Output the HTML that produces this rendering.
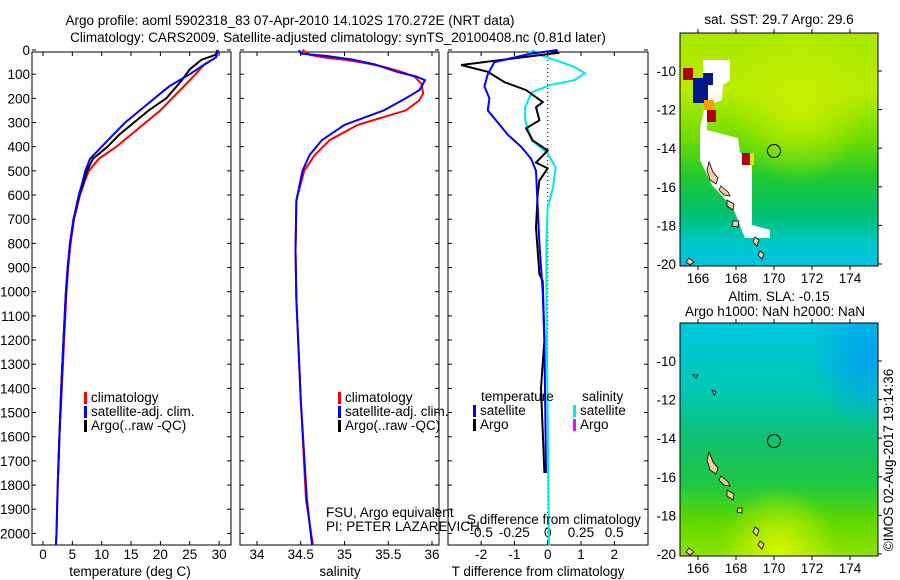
<!DOCTYPE html>
<html><head><meta charset="utf-8"><style>
body{margin:0;background:#fff;}
svg{display:block;font-family:"Liberation Sans",sans-serif;font-size:13.5px;}
</style></head><body>
<svg id="fig" width="900" height="580" viewBox="0 0 900 580">
<defs>
<linearGradient id="g1" x1="0" y1="0" x2="0" y2="1">
<stop offset="0" stop-color="#a8e800"/><stop offset="0.25" stop-color="#b8ec00"/><stop offset="0.45" stop-color="#70dc00"/><stop offset="0.62" stop-color="#20c830"/><stop offset="0.78" stop-color="#00c070"/><stop offset="0.9" stop-color="#00c8c8"/><stop offset="1" stop-color="#00c0e0"/></linearGradient>
<radialGradient id="g1b" cx="0.6" cy="0.3" r="0.35"><stop offset="0" stop-color="#c8f000"/><stop offset="1" stop-color="#c8f000" stop-opacity="0"/></radialGradient>
<linearGradient id="g2" x1="0" y1="0" x2="0" y2="1">
<stop offset="0" stop-color="#00c8e0"/><stop offset="0.3" stop-color="#00c8b0"/><stop offset="0.5" stop-color="#10c070"/><stop offset="0.7" stop-color="#20c840"/><stop offset="0.85" stop-color="#60d800"/><stop offset="1" stop-color="#90e000"/></linearGradient>
<radialGradient id="g2b" cx="0.5" cy="1" r="0.3"><stop offset="0" stop-color="#d8f800"/><stop offset="1" stop-color="#d8f800" stop-opacity="0"/></radialGradient>
<radialGradient id="g2c" cx="0.95" cy="0.15" r="0.3"><stop offset="0" stop-color="#00a0f0"/><stop offset="1" stop-color="#00a0f0" stop-opacity="0"/></radialGradient>
</defs>
<text x="290" y="25" text-anchor="middle">Argo profile: aoml 5902318_83 07-Apr-2010 14.102S 170.272E (NRT data)</text>
<text x="338" y="42" text-anchor="middle">Climatology: CARS2009. Satellite-adjusted climatology: synTS_20100408.nc (0.81d later)</text>
<g id="p1"></g>
<g id="p2"></g>
<g id="p3"></g>

<g>
<text x="779" y="24" text-anchor="middle">sat. SST: 29.7 Argo: 29.6</text>
<rect x="680" y="33" width="198" height="233" fill="url(#g1)"/>
<rect x="680" y="33" width="198" height="233" fill="url(#g1b)"/>
<polygon points="703,60 730,60 730,80 723,85 722,100 708,105 707,130 738,138 740,152 752,165 752,225 770,230 770,238 745,238 733,208 712,185 700,160 700,128 705,105 703,80" fill="#fff"/>
<rect x="683" y="68" width="10" height="12" fill="#b00000"/><rect x="693" y="78" width="15" height="25" fill="#001888"/><rect x="703" y="73" width="10" height="12" fill="#001888"/><rect x="704" y="100" width="10" height="10" fill="#f0a000"/><rect x="707" y="110" width="9" height="12" fill="#b00000"/><rect x="742" y="153" width="8" height="12" fill="#b00000"/><rect x="750" y="153" width="4" height="12" fill="#e8e000"/>
<g fill="#f8c8a0" stroke="#000" stroke-width="0.8">
<polygon points="709,162 713,172 718,178 716,184 710,180 707,170"/><polygon points="721,186 728,192 730,196 724,195 719,190"/><polygon points="727,200 734,204 733,210 727,206"/><polygon points="733,221 739,221 738,227 732,226"/><polygon points="755,237 759,240 757,246 753,242"/><polygon points="760,251 764,254 762,259 758,255"/><polygon points="689,258 694,262 690,265 686,262"/></g>
<circle cx="774" cy="151" r="6.5" fill="none" stroke="#000"/>
<rect x="680" y="33" width="198" height="233" fill="none" stroke="#000"/>
<g id="m1t"></g>
</g>
<g>
<text x="779" y="301" text-anchor="middle">Altim. SLA: -0.15</text>
<text x="775" y="316" text-anchor="middle">Argo h1000: NaN h2000: NaN</text>
<rect x="680" y="323" width="198" height="233" fill="url(#g2)"/>
<rect x="680" y="323" width="198" height="233" fill="url(#g2c)"/>
<rect x="680" y="323" width="198" height="233" fill="url(#g2b)"/>
<g fill="#f8c8a0" stroke="#000" stroke-width="0.8">
<polygon points="709,452 713,462 718,468 716,474 710,470 707,460"/><polygon points="721,476 728,482 730,486 724,485 719,480"/><polygon points="727,490 734,494 733,500 727,496"/><polygon points="738,508 742,508 742,513 737,512"/><polygon points="755,527 759,530 757,536 753,532"/><polygon points="760,541 764,544 762,549 758,545"/><polygon points="689,548 694,552 690,555 686,552"/><polygon points="693,375 698,375 696,378"/><polygon points="712,390 716,392 714,395"/></g>
<circle cx="774" cy="441" r="6.5" fill="none" stroke="#000"/>
<rect x="680" y="323" width="198" height="233" fill="none" stroke="#000"/>
<g id="m2t"></g>
</g>
<text transform="translate(893,460) rotate(-90)" text-anchor="middle">©IMOS 02-Aug-2017 19:14:36</text>
</svg>
<script>
// ---- data ----
const depthTicks=[0,100,200,300,400,500,600,700,800,900,1000,1100,1200,1300,1400,1500,1600,1700,1800,1900,2000];
const tempTicks=[0,5,10,15,20,25,30];
const salTicks=[34,34.5,35,35.5,36];
const tdiffTicks=[-2,-1,0,1,2];
const sdiffTicks=[-0.5,-0.25,0,0.25,0.5];
const tClimDepth=[0,30,60,100,150,200,250,300,350,400,450,500,550,600,700,800,900,1000,1200,1400,1600,1800,2000,2050];
const tClim=[29.7,29.5,27.5,26,24,22,20,17.5,15,12.5,9.5,7.8,7,6.3,5.3,4.7,4.3,4,3.6,3.2,2.8,2.5,2.3,2.2];
const tSatDepth=[0,30,60,100,150,200,250,300,350,400,450,500,550,600,700,800,900,1000,1200,1400,1600,1800,2000,2050];
const tSat=[29.8,29.5,27.5,25,21.5,19,16.5,14,12,10,8,7.2,6.7,6.1,5.2,4.6,4.2,3.9,3.5,3.1,2.8,2.5,2.3,2.2];
const tArgoDepth=[0,20,40,80,130,200,250,300,350,400,450,500,550,600,700,800,900,1000,1200,1400,1600,1750];
const tArgo=[29.8,29.4,27,25,23.5,21,18,15.5,13,11,8.5,7.5,6.9,6.2,5.2,4.6,4.2,3.9,3.5,3.1,2.8,2.6];
const sClimDepth=[0,20,30,40,55,70,90,110,140,180,210,250,310,373,435,500,622,830,1035,1450,1860,2050];
const sClim=[34.52,34.6,34.75,35.0,35.25,35.45,35.65,35.8,35.88,35.9,35.85,35.7,35.15,34.83,34.66,34.54,34.45,34.44,34.45,34.5,34.56,34.64];
const sSatDepth=[0,15,25,40,60,90,110,125,165,200,250,310,373,435,500,622,830,1035,1450,1860,2050];
const sSat=[34.48,34.5,34.8,35.1,35.35,35.6,35.82,35.92,35.86,35.7,35.45,35.0,34.74,34.6,34.52,34.45,34.44,34.45,34.5,34.57,34.63];
const dTSatDepth=[0,15,50,100,150,200,250,300,350,400,450,500,650,800,1000,1200,1400,1750];
const dTSat=[0.3,-0.5,-1.6,-1.8,-1.9,-1.75,-1.8,-1.5,-1.2,-0.8,-0.5,-0.35,-0.3,-0.25,-0.15,-0.1,-0.08,-0.05];
const dTArgoDepth=[0,12,62,90,133,166,215,237,291,324,374,416,466,490,540,595,735,927,956,1200,1400,1750];
const dTArgo=[0.2,0.3,-2.6,-1.8,-1.3,-0.65,-0.15,-0.35,-0.25,-0.65,-0.45,0,-0.35,0,-0.25,-0.3,-0.35,-0.25,-0.15,-0.1,-0.2,-0.1];
const dSSatDepth=[0,12,20,50,70,96,125,145,175,237,291,374,428,486,570,652,790,1040,1500,2050];
const dSSat=[-0.1,-0.14,-0.06,0.1,0.2,0.28,0.2,0.02,-0.12,-0.17,-0.17,-0.12,0,0.06,0.04,0,-0.01,-0.01,0,0.01];
const lonTicks=[166,168,170,172,174];
const latTicks=[-10,-12,-14,-16,-18,-20];

const NS='http://www.w3.org/2000/svg';
const top0=52,bot=545;
function yD(d){return 50+d*0.2417;}
function mk(parent,tag,attrs,txt){const e=document.createElementNS(NS,tag);for(const k in attrs)e.setAttribute(k,attrs[k]);if(txt!==undefined)e.textContent=txt;parent.appendChild(e);return e;}
function frame(g,x0,x1,leftLabels){
  const r=mk(g,'rect',{x:x0,y:top0,width:x1-x0,height:bot-top0,fill:'none',stroke:'#000'});
  
  
  depthTicks.forEach(d=>{
    mk(g,'line',{x1:x0,x2:x0+4,y1:yD(d),y2:yD(d),stroke:'#000'});
    mk(g,'line',{x1:x1-4,x2:x1,y1:yD(d),y2:yD(d),stroke:'#000'});
    if(leftLabels){const t=mk(g,'text',{x:x0-2,y:yD(d)+5,'text-anchor':'end'},String(d));
      
      }
  });
}
function xticks(g,ticks,fx,ylab,labels){
  ticks.forEach((v,i)=>{const x=fx(v);
    mk(g,'line',{x1:x,x2:x,y1:bot,y2:bot-4,stroke:'#000'});
    mk(g,'line',{x1:x,x2:x,y1:top0,y2:top0+4,stroke:'#000'});
    if(ylab!==null){const t=mk(g,'text',{x:x,y:ylab,'text-anchor':'middle'},labels?labels[i]:String(v));
      
      }
  });
}
function line(g,xs,ds,fx,color,name,w){
  const pts=xs.map((v,i)=>fx(v).toFixed(1)+','+yD(ds[i]).toFixed(1)).join(' ');
  const p=mk(g,'polyline',{points:pts,fill:'none',stroke:color,'stroke-width':w||2});
  
  
}
function legend(g,x,y,items){
  items.forEach((it,i)=>{
    mk(g,'rect',{x:x,y:y+i*14-10,width:3,height:12,fill:it[0]});
    const t=mk(g,'text',{x:x+7,y:y+i*14},it[1]);
    
    
  });
}
// panel 1
const p1=document.getElementById('p1');
const fT=v=>43+v*5.87;
frame(p1,32,231,true);
xticks(p1,tempTicks,fT,559);
line(p1,tClim,tClimDepth,fT,'#f00','temp-climatology-line');
line(p1,tArgo,tArgoDepth,fT,'#000','temp-argo-line');
line(p1,tSat,tSatDepth,fT,'#00f','temp-satellite-line');
legend(p1,84,402,[['#f00','climatology'],['#00f','satellite-adj. clim.'],['#000','Argo(..raw -QC)']]);
mk(p1,'text',{x:130,y:576,'text-anchor':'middle'},'temperature (deg C)');
// panel 2
const p2=document.getElementById('p2');
const fS=v=>257+(v-34)*87.5;
frame(p2,240,439,false);
xticks(p2,salTicks,fS,559);
line(p2,sClim,sClimDepth,fS,'#f00','salinity-climatology-line');
line(p2,sSat,sSatDepth,fS,'#00f','salinity-satellite-line');
legend(p2,338,402,[['#f00','climatology'],['#00f','satellite-adj. clim.'],['#000','Argo(..raw -QC)']]);
mk(p2,'text',{x:326,y:517},'FSU, Argo equivalent');
mk(p2,'text',{x:326,y:531},'PI: PETER LAZAREVICH');
mk(p2,'text',{x:340,y:576,'text-anchor':'middle'},'salinity');
// panel 3
const p3=document.getElementById('p3');
const fDT=v=>547.7+v*33.3, fDS=v=>547.7+v*133;
frame(p3,448,648,false);
xticks(p3,tdiffTicks,fDT,559);
sdiffTicks.forEach(v=>{const t=mk(p3,'text',{x:fDS(v),y:537,'text-anchor':'middle'},String(v));
  
  });
mk(p3,'line',{x1:fDT(0),x2:fDT(0),y1:top0,y2:bot,stroke:'#000','stroke-dasharray':'1,3'});
line(p3,dSSat,dSSatDepth,fDS,'#00e8f0','s-diff-satellite-line');
line(p3,dTArgo,dTArgoDepth,fDT,'#000','t-diff-argo-line');
line(p3,dTSat,dTSatDepth,fDT,'#00f','t-diff-satellite-line');
mk(p3,'text',{x:481,y:401},'temperature');
legend(p3,473,415,[['#00f','satellite'],['#000','Argo']]);
mk(p3,'text',{x:582,y:401},'salinity');
legend(p3,573,415,[['#00e8f0','satellite'],['#f0f','Argo']]);
mk(p3,'text',{x:467,y:524},'S difference from climatology');
mk(p3,'text',{x:538,y:576,'text-anchor':'middle'},'T difference from climatology');
// map ticks
function mapTicks(id,y0,ylab){
  const g=document.getElementById(id);
  lonTicks.forEach(l=>{const x=698+(l-166)*19;
    mk(g,'line',{x1:x,x2:x,y1:y0,y2:y0-4,stroke:'#000'});
    mk(g,'line',{x1:x,x2:x,y1:y0+233,y2:y0+237,stroke:'#000'});
    const t=mk(g,'text',{x:x,y:y0+250,'text-anchor':'middle'},String(l));
    
    });
  latTicks.forEach(l=>{const y=ylab+(-10-l)*19.3;
    mk(g,'line',{x1:878,x2:882,y1:y,y2:y,stroke:'#000'});
    const t=mk(g,'text',{x:676,y:y+5,'text-anchor':'end'},String(l));
    
    });
}
mapTicks('m1t',33,71);
mapTicks('m2t',323,361);
</script>
</body></html>
